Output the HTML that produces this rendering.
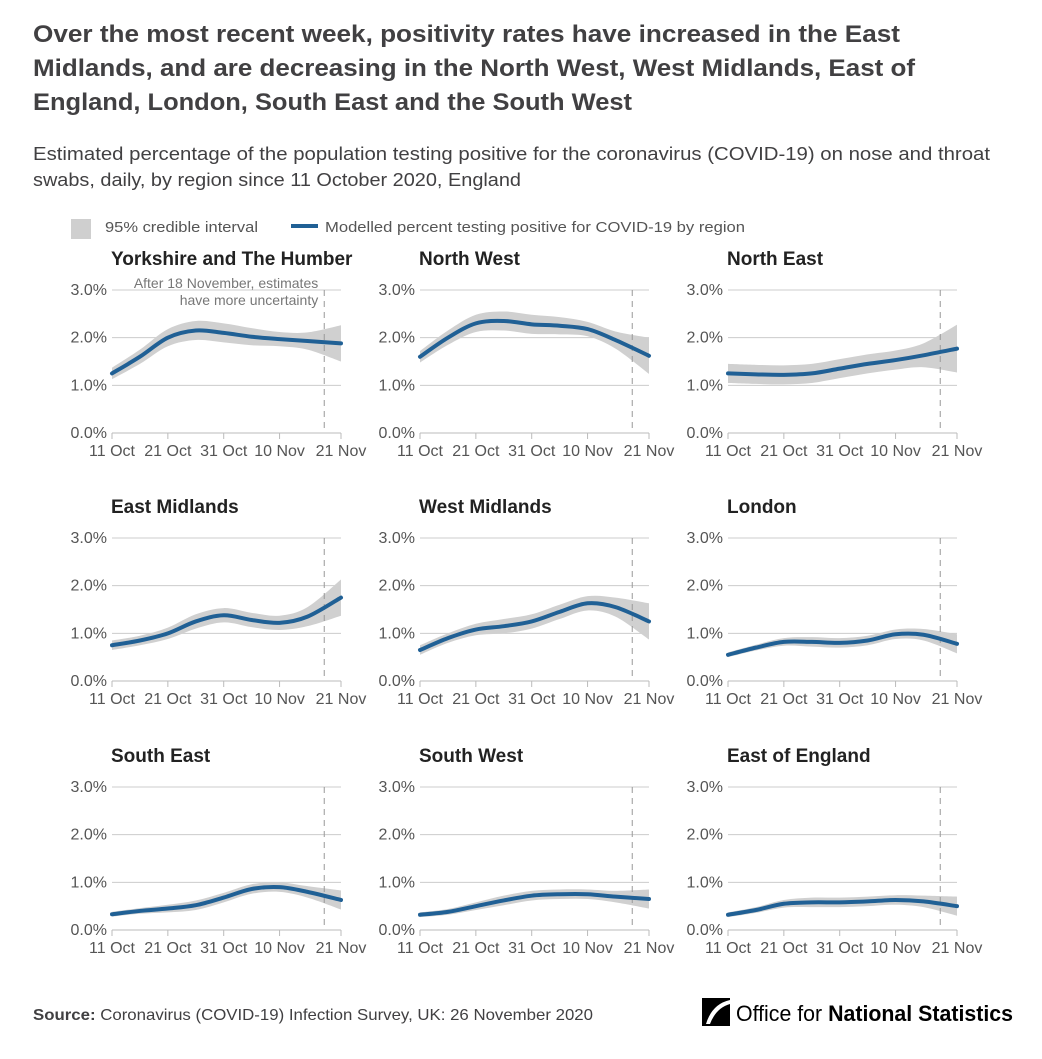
<!DOCTYPE html>
<html><head><meta charset="utf-8"><style>
body{margin:0;background:#fff;font-family:"Liberation Sans",sans-serif;}
svg text{font-family:"Liberation Sans",sans-serif;}
</style></head><body>
<svg id="c" width="1042" height="1054" viewBox="0 0 1042 1054">
<g fill="#414042" font-weight="bold" font-size="24">
<text x="33" y="42" textLength="867" lengthAdjust="spacingAndGlyphs">Over the most recent week, positivity rates have increased in the East</text>
<text x="33" y="76" textLength="882" lengthAdjust="spacingAndGlyphs">Midlands, and are decreasing in the North West, West Midlands, East of</text>
<text x="33" y="110" textLength="599" lengthAdjust="spacingAndGlyphs">England, London, South East and the South West</text>
</g>
<g fill="#414042" font-size="18">
<text x="33" y="160" textLength="957" lengthAdjust="spacingAndGlyphs">Estimated percentage of the population testing positive for the coronavirus (COVID-19) on nose and throat</text>
<text x="33" y="186" textLength="488" lengthAdjust="spacingAndGlyphs">swabs, daily, by region since 11 October 2020, England</text>
</g>
<g font-size="15" fill="#555">
<rect x="71" y="219" width="20" height="20" fill="#cfcfcf"/>
<text x="105" y="232" textLength="153" lengthAdjust="spacingAndGlyphs">95% credible interval</text>
<line x1="291" y1="226" x2="318" y2="226" stroke="#206095" stroke-width="4"/>
<text x="325" y="232" textLength="420" lengthAdjust="spacingAndGlyphs">Modelled percent testing positive for COVID-19 by region</text>
</g>
<g id="panels"></g>
<text x="33" y="1020" font-size="16" fill="#414042" textLength="560" lengthAdjust="spacingAndGlyphs"><tspan font-weight="bold">Source:</tspan> Coronavirus (COVID-19) Infection Survey, UK: 26 November 2020</text>
<g>
<rect x="702" y="998" width="28" height="28" fill="#000"/>
<path d="M706 1024 Q712 1004 730 1000 L730 1004 Q716 1008 710 1024Z" fill="#fff"/>
<text x="736" y="1021" font-size="22" fill="#000" textLength="277" lengthAdjust="spacingAndGlyphs">Office for <tspan font-weight="bold">National Statistics</tspan></text>
</g>
</svg>
<script>
const days=[0,5,10,15,20,25,30,35,41];
const regions=["Yorkshire and The Humber","North West","North East","East Midlands","West Midlands","London","South East","South West","East of England"];
const yorkshire=[1.25,1.6,2.0,2.15,2.1,2.02,1.97,1.93,1.88];
const northWest=[1.6,2.0,2.3,2.35,2.28,2.25,2.18,1.95,1.62];
const northEast=[1.25,1.23,1.22,1.25,1.35,1.45,1.53,1.63,1.77];
const eastMidlands=[0.75,0.85,1.0,1.25,1.38,1.28,1.22,1.35,1.75];
const westMidlands=[0.65,0.9,1.08,1.15,1.25,1.45,1.63,1.55,1.25];
const london=[0.55,0.7,0.82,0.82,0.8,0.85,0.98,0.97,0.78];
const southEast=[0.33,0.4,0.45,0.52,0.68,0.86,0.9,0.8,0.63];
const southWest=[0.32,0.38,0.5,0.62,0.72,0.75,0.75,0.7,0.65];
const eastOfEngland=[0.32,0.42,0.55,0.58,0.58,0.6,0.63,0.6,0.5];
const halfWidthYorks=[0.12,0.15,0.18,0.2,0.2,0.18,0.15,0.18,0.38];
const halfWidthNE=[0.2,0.2,0.2,0.2,0.2,0.2,0.2,0.25,0.5];
const halfWidthMid=[0.1,0.1,0.12,0.15,0.15,0.15,0.15,0.2,0.38];
const halfWidthLow=[0.05,0.06,0.08,0.1,0.1,0.1,0.1,0.12,0.2];
const series=[yorkshire,northWest,northEast,eastMidlands,westMidlands,london,southEast,southWest,eastOfEngland];
const widths=[halfWidthYorks,halfWidthYorks,halfWidthNE,halfWidthMid,halfWidthMid,halfWidthLow,halfWidthLow,halfWidthLow,halfWidthLow];
const yTicks=[0,1,2,3];
const yTickLabels=["0.0%","1.0%","2.0%","3.0%"];
const xTickDays=[0,10,20,30,41];
const xTickLabels=["11 Oct","21 Oct","31 Oct","10 Nov","21 Nov"];
const cutoffDay=38;

const NS="http://www.w3.org/2000/svg";
const colX=[112,420,728], rowY=[433,681,930], W=229, H=143;
const root=document.getElementById('panels');
function mk(t,a,p){const e=document.createElementNS(NS,t);for(const k in a)e.setAttribute(k,a[k]);p.appendChild(e);return e;}
function smooth(pts){let d="M"+pts[0][0]+","+pts[0][1];for(let i=0;i<pts.length-1;i++){const p0=pts[i-1]||pts[i],p1=pts[i],p2=pts[i+1],p3=pts[i+2]||p2;
d+=" C"+(p1[0]+(p2[0]-p0[0])/6)+","+(p1[1]+(p2[1]-p0[1])/6)+" "+(p2[0]-(p3[0]-p1[0])/6)+","+(p2[1]-(p3[1]-p1[1])/6)+" "+p2[0]+","+p2[1];}return d;}
series.forEach((vals,i)=>{
  const x0=colX[i%3], y0=rowY[Math.floor(i/3)];
  const xs=d=>x0+d/41*W, ys=v=>y0-v/3*H;
  const g=mk('g',{},root);
  
  
  const t=mk('text',{x:x0-1,y:y0-168,'font-size':19,'font-weight':'bold',fill:'#222'},g);t.textContent=regions[i];
  
  
  yTicks.forEach((v,k)=>{
    if(v>0){const l=mk('line',{x1:x0,x2:x0+W,y1:ys(v),y2:ys(v),stroke:'#ccc','stroke-width':1},g);
    
    }
    const tx=mk('text',{x:x0-5,y:ys(v)+5,'font-size':16,fill:'#555','text-anchor':'end'},g);tx.textContent=yTickLabels[k];
    
    
  });
  const ax=mk('line',{x1:x0,x2:x0+W,y1:y0,y2:y0,stroke:'#bbb'},g);
  
  
  xTickDays.forEach((d,k)=>{
    mk('line',{x1:xs(d),x2:xs(d),y1:y0,y2:y0+6,stroke:'#bbb'},g);
    const tx=mk('text',{x:xs(d),y:y0+23,'font-size':16,fill:'#555','text-anchor':'middle'},g);tx.textContent=xTickLabels[k];
    
    
  });
  const up=days.map((d,k)=>[xs(d),ys(vals[k]+widths[i][k])]);
  const lo=days.map((d,k)=>[xs(d),ys(vals[k]-widths[i][k])]).reverse();
  const band=mk('path',{d:smooth(up)+" L"+lo[0][0]+","+lo[0][1]+smooth(lo).replace(/^M[^C]*/,' ')+"Z",fill:'#d0d0d0'},g);
  
  
  const cl=mk('line',{x1:xs(cutoffDay),x2:xs(cutoffDay),y1:ys(3),y2:y0,stroke:'#999','stroke-dasharray':'6,5'},g);
  
  
  const ln=mk('path',{d:smooth(days.map((d,k)=>[xs(d),ys(vals[k])])),fill:'none',stroke:'#206095','stroke-width':4,'stroke-linecap':'round'},g);
  
  
  if(i===0){
    const a=mk('text',{x:xs(cutoffDay)-6,y:ys(3)-2,'font-size':14,fill:'#777','text-anchor':'end'},g);a.textContent="After 18 November, estimates";
    
    
    const b=mk('text',{x:xs(cutoffDay)-6,y:ys(3)+15,'font-size':14,fill:'#777','text-anchor':'end'},g);b.textContent="have more uncertainty";
    
    
  }
});
</script>
</body></html>
